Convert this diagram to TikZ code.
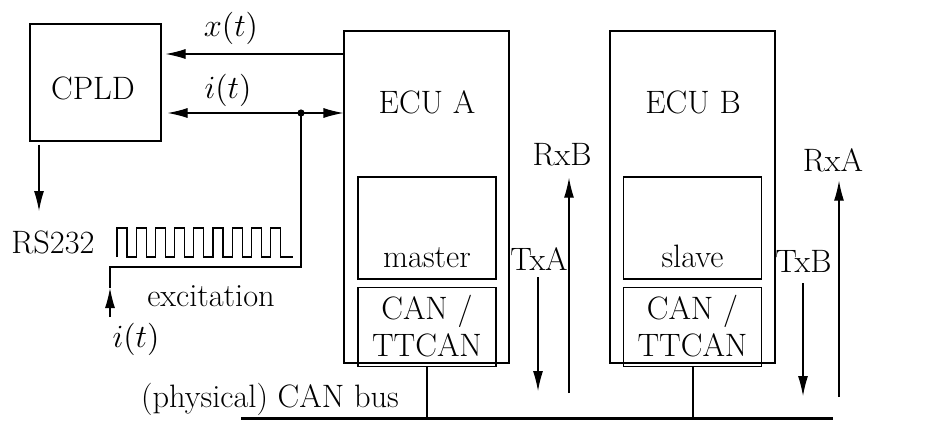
\RequirePackage{fix-cm}
\documentclass[tikz,border=0pt]{standalone}
\usetikzlibrary{arrows.meta, positioning}

\begin{document}
\begin{tikzpicture}[
    x=0.5pt, y=-0.5pt,
    font=\fontsize{16.2}{18.5}\selectfont,
    line width=0.55pt,
    >={Latex[length=10pt,width=5pt]},
    box/.style={rectangle, draw, inner sep=0pt, minimum width=#1},
    ecubox/.style={box=82.5pt, minimum height=166pt},
    appbox/.style={box=69pt, minimum height=51pt},
    canbox/.style={box=69pt, minimum height=39.5pt, align=center},
    stub/.style={line width=1pt},
    bus/.style={line width=1.5pt},
]
    \useasboundingbox (0,0) rectangle (927,420);

    % CPLD and the signal side
    \node[box=65.5pt, minimum height=58.5pt] (cpld) at (95.5,82.5) {};
    \node (cpldlbl) at (93,88) {CPLD};
    \node[anchor=base] (rs232) at (53,253) {RS232};

    % ECU A
    \node[ecubox] (ecuA) at (426.5,197) {};
    \node (ecuAlbl) at (427,102) {ECU A};
    \node[appbox] (master) at (427,228) {};
    \node[anchor=base] (masterlbl) at (427,267) {master};
    \node[canbox, below=3.5pt of master] (canA) {CAN /\\TTCAN};

    % ECU B
    \node[ecubox] (ecuB) at (692.5,197) {};
    \node (ecuBlbl) at (693,102) {ECU B};
    \node[appbox] (slave) at (692.5,228) {};
    \node[anchor=base] (slavelbl) at (692.5,267) {slave};
    \node[canbox, below=3.5pt of slave] (canB) {CAN /\\TTCAN};

    % x(t) and i(t)
    \coordinate (xlvl) at (0,54);
    \coordinate (ilvl) at (0,113);
    \coordinate (tap) at (301,113);
    \draw[->, shorten >=2pt] (ecuA.west |- xlvl) -- (cpld.east |- xlvl);
    \draw[<->, shorten <=3pt] (cpld.east |- ilvl) -- (ecuA.west |- ilvl);
    \fill (tap) circle (1.8pt);
    \node (xlbl) at (231,28) {$x(t)$};
    \node (ilbl) at (228,90) {$i(t)$};

    % excitation
    \coordinate (bend) at (110,267);
    \coordinate (exctip) at (110,288);
    \coordinate (exctail) at (110,317);
    \draw[->] (exctail) -- (exctip);
    \draw (exctip) -- (bend) -| (tap);
    \node (iin) at (136,339) {$i(t)$};
    \node[anchor=base] (exclbl) at (211,306) {excitation};
    \draw (117,257) \foreach \k in {1,...,9} { -- ++(0,-29) -- ++(10,0) -- ++(0,29) -- ++(9.2,0) } -- (293,257);

    % RS232 output
    \coordinate (rstip) at (39,211);
    \draw[->, shorten <=1.5pt] (cpld.south -| rstip) -- (rstip);

    % CAN bus
    \coordinate (busL) at (241,418);
    \coordinate (busR) at (833,418);
    \draw[bus] (busL) -- (busR);
    \draw[stub] (canA.south) -- (canA.south |- busL);
    \draw[stub] (canB.south) -- (canB.south |- busL);
    \node[anchor=base] (buslbl) at (270,407) {(physical) CAN bus};

    % Tx / Rx
    \node[anchor=base] (txA) at (539,270) {TxA};
    \node[anchor=base] (rxB) at (562,165) {RxB};
    \node[anchor=base] (txB) at (803.5,272) {TxB};
    \node[anchor=base] (rxA) at (833,171) {RxA};
    \coordinate (txAend) at (538,391);
    \coordinate (rxBstart) at (569,393);
    \coordinate (txBend) at (803,396);
    \coordinate (rxAstart) at (839,397);
    \draw[->] (txA.south -| txAend) -- (txAend);
    \draw[->, shorten >=2.5pt] (rxBstart) -- (rxBstart |- rxB.south);
    \draw[->, shorten <=2pt] (txB.south -| txBend) -- (txBend);
    \draw[->, shorten >=1pt] (rxAstart) -- (rxAstart |- rxA.south);

\end{tikzpicture}
\end{document}
